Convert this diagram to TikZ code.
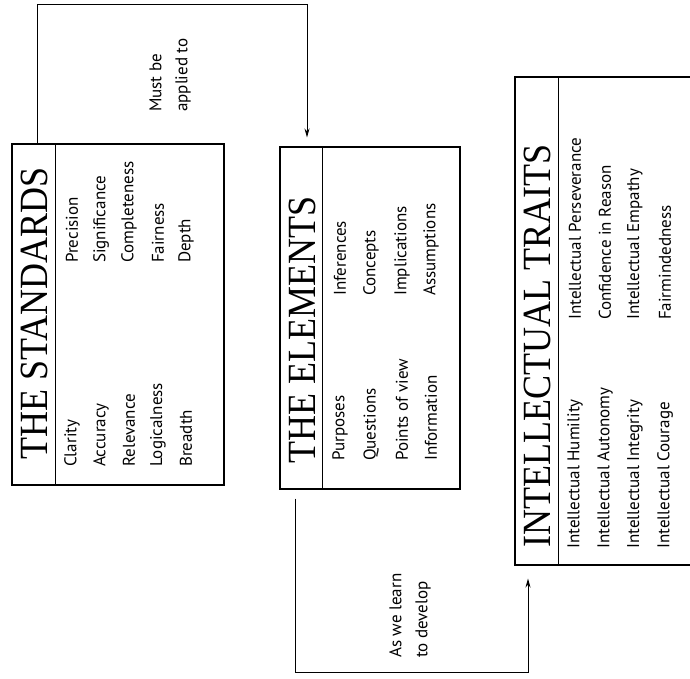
\documentclass[tikz,border=0pt]{standalone}
\usepackage{fontspec}
\usepackage{tikz}
\usepackage{xcolor}
\usetikzlibrary{positioning, arrows.meta, calc}

\newfontfamily\itemfont{PT Sans}
\newfontfamily\headfont[FakeStretch=0.9]{Liberation Serif}

\begin{document}
\begin{tikzpicture}[
      x=1pt, y=-1pt,
      box/.style={
        rectangle,
        draw,
        line width=1.1pt,
        inner sep=0pt
      },
      heading/.style={
        rotate=90,
        anchor=west,
        inner sep=0pt,
        font=\headfont\fontsize{40}{42}\selectfont
      },
      entry/.style={
        rotate=90,
        anchor=west,
        inner sep=0pt,
        font=\itemfont\fontsize{17}{20}\selectfont
      },
      note/.style={
        rotate=90,
        anchor=west,
        align=left,
        inner sep=0pt,
        font=\itemfont\fontsize{17}{26}\selectfont
      },
      link/.style={draw, line width=0.9pt},
      >={Stealth[length=9pt, width=5pt]}
    ]
    \useasboundingbox (0,0) rectangle (690,679);
    \clip (0,0) rectangle (690,679);

    % Boxes
    \node[box, minimum width=212pt, minimum height=341pt] (standards) at (118,314.5) {};
    \node[box, minimum width=180pt, minimum height=342pt] (elements) at (370,318) {};
    \node[box, minimum width=185pt, minimum height=488pt] (traits) at (607.5,321) {};

    % Title strips
    \draw[line width=0.9pt] ([xshift=44pt]standards.north west) -- ([xshift=44pt]standards.south west);
    \draw[line width=0.9pt] ([xshift=43pt]elements.north west) -- ([xshift=43pt]elements.south west);
    \draw[line width=0.9pt] ([xshift=44pt]traits.north west) -- ([xshift=44pt]traits.south west);

    \node[heading] (stdtitle) at (34,460) {THE STANDARDS};
    \node[heading] (eltitle) at (302,464) {THE ELEMENTS};
    \node[heading] (traittitle) at (537,548) {INTELLECTUAL TRAITS};

    % The standards
    \node[entry] (clarity) at (72,467) {Clarity};
    \node[entry] (accuracy) at (101,467) {Accuracy};
    \node[entry] (relevance) at (129,467) {Relevance};
    \node[entry] (logic) at (158,467) {Logicalness};
    \node[entry] (breadth) at (186,467) {Breadth};
    \node[entry] (precision) at (72,263) {Precision};
    \node[entry] (significance) at (101,263) {Significance};
    \node[entry] (completeness) at (129,263) {Completeness};
    \node[entry] (fairness) at (158,263) {Fairness};
    \node[entry] (depth) at (186,263) {Depth};

    % The elements
    \node[entry] (purposes) at (340,461) {Purposes};
    \node[entry] (questions) at (371,461) {Questions};
    \node[entry] (points) at (402,461) {Points of view};
    \node[entry] (information) at (431,461) {Information};
    \node[entry] (inferences) at (340,296) {Inferences};
    \node[entry] (concepts) at (371,296) {Concepts};
    \node[entry] (implications) at (402,296) {Implications};
    \node[entry] (assumptions) at (431,296) {Assumptions};

    % The traits
    \node[entry] (humility) at (575,549) {Intellectual Humility};
    \node[entry] (autonomy) at (605,549) {Intellectual Autonomy};
    \node[entry] (integrity) at (635,549) {Intellectual Integrity};
    \node[entry] (courage) at (665,549) {Intellectual Courage};
    \node[entry] (perseverance) at (575,320) {Intellectual Perseverance};
    \node[entry] (confidence) at (605,320) {Confidence in Reason};
    \node[entry] (empathy) at (635,320) {Intellectual Empathy};
    \node[entry] (fairmind) at (665,320) {Fairmindedness};

    % Connector labels
    \node[note] (applied) at (170,112) {Must be\\applied to};
    \node[note] (develop) at (410,658) {As we learn\\to develop};

    % Arrows
    \coordinate (bendA) at (37,4);
    \coordinate (bendB) at (307,4);
    \coordinate (bendC) at (295,672);
    \coordinate (bendD) at (528,672);

    \draw[link, ->] (bendA |- standards.north) -- (bendA) -- (bendB)
          -- ([yshift=9pt]bendB |- elements.north);
    \draw[link, ->] ([yshift=-9pt]bendC |- elements.south) -- (bendC) -- (bendD)
          -- ([yshift=-13pt]bendD |- traits.south);
  \end{tikzpicture}
\end{document}
